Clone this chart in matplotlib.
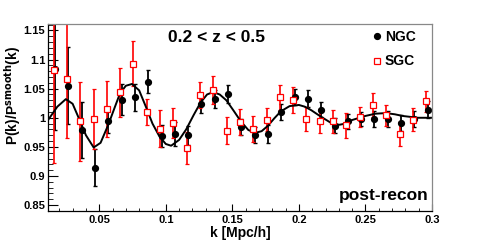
import matplotlib
matplotlib.use("Agg")
import matplotlib.pyplot as plt
from matplotlib.lines import Line2D
from matplotlib.ticker import MultipleLocator

plt.rcParams['font.family'] = ['Liberation Sans', 'DejaVu Sans']
plt.rcParams['font.weight'] = 'bold'

# NGC points
k_ngc = [0.0168, 0.0268, 0.0368, 0.0468, 0.0568, 0.0668, 0.0768, 0.0868, 0.0968, 0.1068,
         0.1168, 0.1268, 0.1368, 0.1468, 0.1568, 0.1668, 0.1768, 0.1868, 0.1968, 0.2068,
         0.2168, 0.2268, 0.2368, 0.2468, 0.2568, 0.2668, 0.2768, 0.2868, 0.2968]
p_ngc = [1.083, 1.055, 0.979, 0.914, 0.994, 1.031, 1.035, 1.062, 0.968, 0.972,
         0.970, 1.024, 1.032, 1.041, 0.984, 0.971, 0.972, 1.010, 1.036, 1.033,
         1.014, 0.986, 0.994, 0.998, 0.998, 0.998, 0.991, 0.998, 1.014]
e_ngc = [0.104, 0.066, 0.048, 0.032, 0.021, 0.027, 0.023, 0.020, 0.019, 0.020,
         0.016, 0.016, 0.016, 0.016, 0.014, 0.014, 0.015, 0.014, 0.014, 0.014,
         0.013, 0.013, 0.013, 0.012, 0.013, 0.013, 0.014, 0.014, 0.014]

# SGC points
k_sgc = [0.0157, 0.0257, 0.0357, 0.0457, 0.0557, 0.0657, 0.0757, 0.0857, 0.0957, 0.1057,
         0.1157, 0.1257, 0.1357, 0.1457, 0.1557, 0.1657, 0.1757, 0.1857, 0.1957, 0.2057,
         0.2157, 0.2257, 0.2357, 0.2457, 0.2557, 0.2657, 0.2757, 0.2857, 0.2957]
p_sgc = [1.082, 1.067, 0.994, 0.998, 1.015, 1.044, 1.093, 1.010, 0.981, 0.991,
         0.948, 1.039, 1.047, 0.978, 0.993, 0.981, 0.997, 1.035, 1.030, 0.998,
         0.994, 0.994, 0.987, 1.002, 1.022, 1.004, 0.972, 0.997, 1.028]
e_sgc = [0.160, 0.102, 0.068, 0.052, 0.048, 0.042, 0.038, 0.023, 0.032, 0.025,
         0.027, 0.023, 0.024, 0.023, 0.022, 0.022, 0.020, 0.021, 0.022, 0.021,
         0.021, 0.020, 0.021, 0.017, 0.021, 0.018, 0.021, 0.020, 0.018]

# best fit model curve
k_fit = [0.0115, 0.0185, 0.0249, 0.030, 0.0349, 0.040, 0.0458, 0.051, 0.0568, 0.0615,
         0.0656, 0.070, 0.0746, 0.080, 0.0852, 0.090, 0.0952, 0.100, 0.104, 0.110,
         0.1153, 0.121, 0.1261, 0.131, 0.1355, 0.1405, 0.1455, 0.151, 0.1563, 0.162,
         0.1671, 0.172, 0.1766, 0.1815, 0.1864, 0.193, 0.200, 0.2045, 0.2093, 0.2145,
         0.2193, 0.225, 0.2304, 0.235, 0.2398, 0.2497, 0.2575, 0.2653, 0.272, 0.2783,
         0.2895, 0.300]
p_fit = [0.996, 1.019, 1.032, 1.024, 0.998, 0.970, 0.949, 0.957, 0.988, 1.017,
         1.042, 1.055, 1.058, 1.047, 1.018, 0.990, 0.968, 0.955, 0.952, 0.962,
         0.980, 1.005, 1.026, 1.040, 1.044, 1.040, 1.030, 1.012, 0.994, 0.979,
         0.974, 0.977, 0.986, 0.999, 1.011, 1.020, 1.022, 1.019, 1.013, 1.005,
         0.998, 0.990, 0.988, 0.990, 0.996, 1.003, 1.007, 1.008, 1.006, 1.003,
         1.000, 1.000]

fig = plt.figure(figsize=(4.8, 2.4), dpi=100)
ax = fig.add_axes([0.1, 0.121, 0.8, 0.779])

ax.errorbar(k_ngc, p_ngc, yerr=e_ngc, fmt='o', color='black', ms=4.2,
            elinewidth=1.3, capsize=1.2, capthick=1.0)
ax.errorbar(k_sgc, p_sgc, yerr=e_sgc, fmt='s', color='red', mfc='white', mec='red',
            ms=4.0, mew=0.9, elinewidth=1.2, capsize=1.2, capthick=0.9)
ax.plot(k_fit, p_fit, color='black', lw=1.4)

ax.set_xlim(0.0115, 0.3)
ax.set_ylim(0.84, 1.161)
ax.xaxis.set_major_locator(MultipleLocator(0.05))
ax.xaxis.set_minor_locator(MultipleLocator(0.01))
ax.yaxis.set_major_locator(MultipleLocator(0.05))
ax.yaxis.set_minor_locator(MultipleLocator(0.01))
ax.set_xticks([0.05, 0.1, 0.15, 0.2, 0.25, 0.3])
ax.set_xticklabels(['0.05', '0.1', '0.15', '0.2', '0.25', '0.3'])
ax.set_yticks([0.85, 0.9, 0.95, 1.0, 1.05, 1.1, 1.15])
ax.set_yticklabels(['0.85', '0.9', '0.95', '1', '1.05', '1.1', '1.15'])

ax.tick_params(axis='both', which='both', direction='in', labelsize=8)
ax.tick_params(axis='x', which='major', length=5, pad=3)
ax.tick_params(axis='x', which='minor', length=2.5)
ax.tick_params(axis='y', which='major', length=7, pad=2)
ax.tick_params(axis='y', which='minor', length=3.5)
for s in ['top', 'right']:
    ax.spines[s].set_color('#888888')
for s in ax.spines.values():
    s.set_linewidth(0.9)

fig.text(0.5, 1 - 236.5 / 240, 'k [Mpc/h]', fontsize=10, fontweight='bold',
         ha='center', va='baseline')
fig.text(0.027, 0.6, r'P(k)/P$^{\mathbf{smooth}}$(k)', rotation=90, fontsize=10,
         fontweight='bold', ha='center', va='center')

ax.text(0.44, 0.93, '0.2 < z < 0.5', transform=ax.transAxes, fontsize=12.5,
        fontweight='bold', ha='center', va='center')
ax.text(0.99, 0.059, 'post-recon', transform=ax.transAxes, fontsize=12.5,
        fontweight='bold', ha='right', va='baseline')

handles = [Line2D([], [], ls='none', marker='o', color='black', ms=4.2),
           Line2D([], [], ls='none', marker='s', mfc='white', mec='red', ms=4.4, mew=0.9)]
ax.legend(handles, ['NGC', 'SGC'], loc='upper right', bbox_to_anchor=(0.975, 1.005),
          frameon=False, handlelength=0.5, handletextpad=0.3,
          labelspacing=0.75, borderpad=0, prop={'weight': 'bold', 'size': 10})

fig.savefig('out.png', dpi=100)
